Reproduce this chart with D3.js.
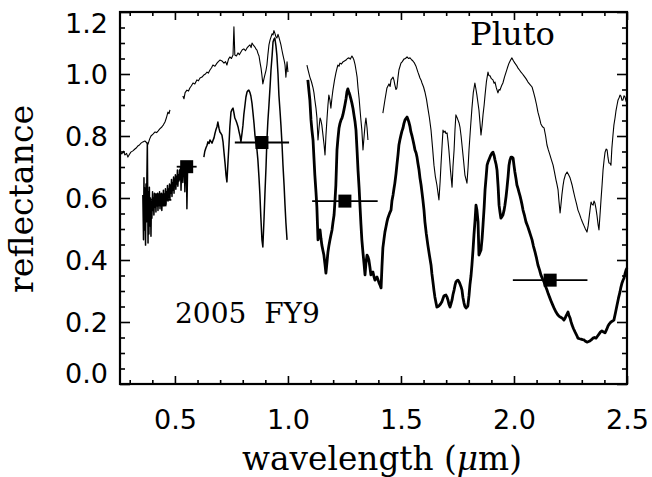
<!DOCTYPE html>
<html><head><meta charset="utf-8">
<script src="https://cdn.jsdelivr.net/npm/d3@7/dist/d3.min.js"></script>
<style>body{margin:0;background:#fff}svg{display:block}</style>
</head><body>
<svg id="c" width="652" height="477"></svg>
<script>
// ---- data (wavelength in micron, reflectance) ----
const plutoVis1 = [[0.257,0.748],[0.265,0.742],[0.272,0.751],[0.279,0.739],[0.286,0.744],[0.292,0.732],[0.299,0.741],[0.305,0.748],[0.314,0.752],[0.323,0.758],[0.330,0.762],[0.336,0.768],[0.343,0.771],[0.350,0.777],[0.358,0.781],[0.367,0.784],[0.374,0.779],[0.381,0.774],[0.388,0.790],[0.394,0.800],[0.403,0.806],[0.412,0.813],[0.419,0.811],[0.425,0.816],[0.433,0.823],[0.442,0.829],[0.449,0.836],[0.456,0.845],[0.462,0.858],[0.469,0.877],[0.474,0.872],[0.478,0.884]];
const plutoVis2 = [[0.535,0.929],[0.540,0.920],[0.545,0.940],[0.553,0.948],[0.560,0.945],[0.566,0.955],[0.573,0.962],[0.580,0.971],[0.588,0.968],[0.597,0.981],[0.604,0.978],[0.611,0.987],[0.620,0.990],[0.628,0.997],[0.635,1.000],[0.642,1.006],[0.648,1.003],[0.655,1.013],[0.662,1.020],[0.668,1.029],[0.677,1.025],[0.686,1.035],[0.692,1.040],[0.699,1.045],[0.708,1.042],[0.717,1.035],[0.724,1.040],[0.730,1.029],[0.737,1.048],[0.743,1.055],[0.750,1.050],[0.757,1.061],[0.761,1.152],[0.765,1.061],[0.772,1.058],[0.779,1.068],[0.785,1.062],[0.792,1.071],[0.798,1.078],[0.805,1.081],[0.812,1.075],[0.819,1.084],[0.826,1.090],[0.832,1.094],[0.837,1.085],[0.841,1.100],[0.848,1.092],[0.854,1.087],[0.859,1.080],[0.863,1.077],[0.868,1.065],[0.872,1.058],[0.877,1.035],[0.881,1.019],[0.885,0.995],[0.889,0.968],[0.894,0.985],[0.898,0.997],[0.903,1.012],[0.907,1.029],[0.911,1.060],[0.916,1.094],[0.921,1.110],[0.925,1.119],[0.930,1.130],[0.934,1.126],[0.938,1.140],[0.942,1.132],[0.947,1.120],[0.951,1.116],[0.956,1.128],[0.960,1.119],[0.965,1.105],[0.969,1.094],[0.974,1.075],[0.978,1.061],[0.983,1.045],[0.987,1.029],[0.991,0.990],[0.996,1.039],[1.000,1.006]];
const plutoNir1 = [[1.084,1.029],[1.090,1.010],[1.097,0.990],[1.104,0.975],[1.111,0.955],[1.115,0.940],[1.119,0.916],[1.124,0.890],[1.128,0.861],[1.133,0.787],[1.138,0.830],[1.142,0.858],[1.146,0.850],[1.150,0.835],[1.155,0.803],[1.160,0.770],[1.164,0.739],[1.168,0.800],[1.173,0.858],[1.177,0.900],[1.181,0.932],[1.186,0.915],[1.190,0.890],[1.195,0.925],[1.199,0.948],[1.206,0.980],[1.212,1.003],[1.217,1.018],[1.221,1.029],[1.226,1.025],[1.230,1.035],[1.237,1.032],[1.243,1.039],[1.250,1.042],[1.257,1.045],[1.263,1.050],[1.270,1.052],[1.276,1.048],[1.283,1.058],[1.288,1.052],[1.292,1.045],[1.297,1.030],[1.301,1.013],[1.306,0.990],[1.310,0.955],[1.315,0.920],[1.319,0.884],[1.323,0.850],[1.327,0.819],[1.332,0.755],[1.337,0.800],[1.341,0.835],[1.345,0.858],[1.350,0.826],[1.354,0.787]];
const plutoNir2 = [[1.420,0.874],[1.429,0.916],[1.438,0.955],[1.447,0.968],[1.452,0.960],[1.456,0.981],[1.465,0.990],[1.469,0.980],[1.473,0.965],[1.478,0.950],[1.482,0.955],[1.487,0.990],[1.491,1.013],[1.500,1.035],[1.506,1.040],[1.513,1.048],[1.520,1.050],[1.527,1.055],[1.533,1.050],[1.540,1.052],[1.547,1.046],[1.553,1.042],[1.560,1.035],[1.566,1.026],[1.571,1.015],[1.575,1.006],[1.580,0.996],[1.584,0.987],[1.589,0.980],[1.593,0.971],[1.600,0.958],[1.606,0.942],[1.613,0.918],[1.619,0.890],[1.626,0.858],[1.633,0.819],[1.640,0.760],[1.646,0.706],[1.652,0.670],[1.659,0.642],[1.668,0.594],[1.673,0.650],[1.677,0.706],[1.682,0.770],[1.686,0.819],[1.690,0.812],[1.695,0.816],[1.699,0.808],[1.704,0.810],[1.708,0.785],[1.712,0.755],[1.719,0.690],[1.726,0.635],[1.730,0.700],[1.735,0.755],[1.739,0.820],[1.743,0.868],[1.748,0.860],[1.752,0.852],[1.757,0.842],[1.761,0.829],[1.766,0.800],[1.770,0.771],[1.777,0.720],[1.783,0.674],[1.792,0.648],[1.797,0.700],[1.801,0.755],[1.808,0.830],[1.814,0.890],[1.820,0.940],[1.827,0.971],[1.832,0.950],[1.836,0.932],[1.841,0.905],[1.845,0.884],[1.850,0.840],[1.854,0.803],[1.859,0.835],[1.863,0.868],[1.868,0.900],[1.872,0.932],[1.878,0.975],[1.885,1.006],[1.889,0.995],[1.894,0.994],[1.900,0.985],[1.907,0.981],[1.912,0.970],[1.916,0.974],[1.922,0.955],[1.929,0.939],[1.934,0.950],[1.938,0.948],[1.945,0.962],[1.951,0.971],[1.958,0.990],[1.965,1.006],[1.971,1.020],[1.978,1.035],[1.985,1.045],[1.991,1.052],[1.998,1.042],[2.004,1.035],[2.011,1.028],[2.018,1.019],[2.025,1.012],[2.031,1.006],[2.038,1.000],[2.044,0.994],[2.053,0.985],[2.062,0.974],[2.071,0.966],[2.080,0.958],[2.087,0.940],[2.093,0.923],[2.100,0.900],[2.106,0.877],[2.113,0.858],[2.119,0.839],[2.126,0.830],[2.133,0.826],[2.140,0.800],[2.146,0.771],[2.152,0.755],[2.159,0.739],[2.166,0.722],[2.173,0.706],[2.179,0.684],[2.186,0.658],[2.190,0.645],[2.195,0.626],[2.199,0.590],[2.204,0.552],[2.208,0.580],[2.212,0.610],[2.217,0.640],[2.221,0.658],[2.228,0.676],[2.235,0.684],[2.241,0.676],[2.248,0.665],[2.252,0.655],[2.257,0.642],[2.263,0.622],[2.270,0.600],[2.277,0.580],[2.283,0.561],[2.290,0.548],[2.296,0.535],[2.303,0.522],[2.310,0.510],[2.316,0.500],[2.323,0.490],[2.328,0.510],[2.332,0.535],[2.337,0.565],[2.341,0.587],[2.345,0.580],[2.350,0.577],[2.354,0.590],[2.358,0.584],[2.363,0.565],[2.367,0.545],[2.372,0.515],[2.376,0.497],[2.381,0.550],[2.385,0.594],[2.390,0.645],[2.394,0.690],[2.399,0.725],[2.403,0.748],[2.408,0.758],[2.412,0.755],[2.416,0.730],[2.420,0.713],[2.425,0.712],[2.429,0.706],[2.433,0.760],[2.438,0.803],[2.442,0.835],[2.447,0.858],[2.451,0.880],[2.456,0.900],[2.460,0.915],[2.465,0.923],[2.469,0.932],[2.473,0.929],[2.478,0.915],[2.482,0.916],[2.487,0.930],[2.491,0.926],[2.496,0.912],[2.500,0.906]];

const fy9Vis1 = [[0.358,0.610],[0.361,0.465],[0.363,0.665],[0.365,0.497],[0.367,0.632],[0.370,0.448],[0.372,0.645],[0.374,0.523],[0.376,0.671],[0.378,0.777],[0.381,0.455],[0.383,0.619],[0.385,0.484],[0.387,0.635],[0.389,0.510],[0.392,0.600],[0.394,0.477],[0.396,0.587],[0.398,0.535],[0.401,0.620],[0.403,0.560],[0.405,0.600],[0.407,0.545],[0.410,0.615],[0.412,0.570],[0.414,0.605],[0.416,0.555],[0.418,0.610],[0.420,0.575],[0.423,0.615],[0.425,0.560],[0.427,0.600],[0.429,0.580],[0.432,0.620],[0.434,0.565],[0.436,0.606],[0.438,0.578],[0.440,0.615],[0.442,0.560],[0.445,0.603],[0.447,0.580],[0.449,0.625],[0.451,0.575],[0.454,0.612],[0.456,0.585],[0.458,0.630],[0.460,0.580],[0.463,0.620],[0.465,0.595],[0.467,0.640],[0.469,0.590],[0.471,0.628],[0.473,0.600],[0.476,0.645],[0.478,0.598],[0.480,0.640],[0.482,0.615],[0.485,0.660],[0.487,0.605],[0.489,0.648],[0.491,0.625],[0.494,0.668],[0.496,0.615],[0.498,0.660],[0.500,0.640],[0.502,0.675],[0.504,0.628],[0.507,0.670],[0.509,0.645],[0.511,0.690],[0.513,0.638],[0.516,0.675],[0.518,0.655],[0.520,0.690],[0.522,0.660],[0.525,0.700],[0.527,0.625],[0.529,0.685],[0.531,0.665],[0.533,0.705],[0.535,0.650],[0.538,0.695],[0.540,0.672],[0.542,0.712],[0.544,0.620],[0.547,0.690],[0.549,0.670],[0.551,0.705],[0.553,0.565],[0.556,0.690],[0.558,0.700]];
const fy9Vis2 = [[0.628,0.732],[0.632,0.750],[0.637,0.761],[0.642,0.770],[0.646,0.781],[0.651,0.776],[0.655,0.787],[0.660,0.782],[0.664,0.777],[0.668,0.785],[0.673,0.794],[0.677,0.808],[0.681,0.819],[0.686,0.830],[0.690,0.845],[0.695,0.825],[0.699,0.813],[0.704,0.808],[0.708,0.803],[0.713,0.780],[0.717,0.748],[0.722,0.710],[0.726,0.674],[0.730,0.652],[0.735,0.720],[0.739,0.771],[0.743,0.830],[0.748,0.877],[0.752,0.885],[0.757,0.890],[0.761,0.875],[0.765,0.858],[0.770,0.850],[0.774,0.842],[0.779,0.830],[0.783,0.816],[0.788,0.800],[0.792,0.781],[0.797,0.810],[0.801,0.835],[0.805,0.870],[0.810,0.900],[0.814,0.925],[0.819,0.942],[0.823,0.946],[0.827,0.948],[0.832,0.940],[0.836,0.929],[0.841,0.905],[0.845,0.877],[0.850,0.840],[0.854,0.803],[0.858,0.780],[0.863,0.755],[0.867,0.723],[0.872,0.665],[0.876,0.610],[0.880,0.540],[0.885,0.465],[0.889,0.442],[0.894,0.530],[0.898,0.610],[0.903,0.700],[0.907,0.787],[0.911,0.845],[0.916,0.900],[0.921,0.960],[0.925,1.013],[0.930,1.060],[0.934,1.103],[0.938,1.112],[0.942,1.116],[0.947,1.090],[0.951,1.061],[0.956,1.000],[0.960,0.932],[0.965,0.880],[0.969,0.835],[0.974,0.770],[0.978,0.706],[0.983,0.640],[0.987,0.577],[0.991,0.520],[0.996,0.465]];
const fy9Nir = [[1.088,0.981],[1.097,0.916],[1.102,0.852],[1.106,0.820],[1.111,0.787],[1.115,0.730],[1.119,0.674],[1.124,0.620],[1.128,0.571],[1.133,0.465],[1.137,0.480],[1.142,0.497],[1.146,0.470],[1.150,0.448],[1.155,0.430],[1.159,0.416],[1.164,0.385],[1.168,0.358],[1.173,0.395],[1.177,0.426],[1.181,0.445],[1.186,0.465],[1.190,0.480],[1.195,0.497],[1.199,0.520],[1.204,0.545],[1.208,0.590],[1.212,0.642],[1.217,0.755],[1.221,0.790],[1.226,0.826],[1.230,0.840],[1.235,0.852],[1.239,0.858],[1.243,0.868],[1.248,0.885],[1.252,0.900],[1.257,0.920],[1.261,0.942],[1.265,0.952],[1.270,0.940],[1.274,0.932],[1.279,0.918],[1.283,0.906],[1.288,0.888],[1.292,0.868],[1.297,0.845],[1.301,0.819],[1.306,0.750],[1.310,0.690],[1.315,0.630],[1.319,0.571],[1.323,0.515],[1.327,0.465],[1.332,0.423],[1.337,0.385],[1.341,0.352],[1.345,0.390],[1.350,0.416],[1.354,0.410],[1.358,0.400],[1.363,0.375],[1.367,0.352],[1.372,0.358],[1.376,0.361],[1.381,0.345],[1.385,0.335],[1.390,0.342],[1.394,0.345],[1.399,0.335],[1.403,0.326],[1.408,0.318],[1.412,0.310],[1.416,0.380],[1.420,0.439],[1.425,0.468],[1.429,0.490],[1.434,0.508],[1.438,0.523],[1.442,0.535],[1.447,0.545],[1.451,0.553],[1.456,0.561],[1.460,0.590],[1.465,0.610],[1.469,0.630],[1.473,0.648],[1.478,0.678],[1.482,0.706],[1.487,0.740],[1.491,0.771],[1.496,0.790],[1.500,0.803],[1.504,0.815],[1.509,0.826],[1.513,0.840],[1.518,0.852],[1.522,0.856],[1.527,0.861],[1.531,0.853],[1.535,0.845],[1.540,0.830],[1.544,0.813],[1.549,0.800],[1.553,0.787],[1.558,0.770],[1.562,0.755],[1.567,0.745],[1.571,0.732],[1.575,0.712],[1.580,0.690],[1.584,0.665],[1.589,0.642],[1.593,0.618],[1.597,0.594],[1.602,0.560],[1.606,0.523],[1.612,0.485],[1.619,0.448],[1.626,0.415],[1.633,0.384],[1.637,0.355],[1.642,0.326],[1.646,0.302],[1.650,0.281],[1.655,0.262],[1.659,0.248],[1.664,0.250],[1.668,0.252],[1.675,0.258],[1.681,0.265],[1.686,0.276],[1.690,0.284],[1.695,0.286],[1.699,0.287],[1.704,0.280],[1.708,0.271],[1.712,0.258],[1.717,0.248],[1.721,0.258],[1.726,0.271],[1.730,0.288],[1.735,0.303],[1.739,0.318],[1.743,0.329],[1.748,0.333],[1.752,0.335],[1.757,0.330],[1.761,0.323],[1.766,0.313],[1.770,0.303],[1.774,0.280],[1.779,0.261],[1.783,0.250],[1.788,0.245],[1.792,0.248],[1.796,0.252],[1.801,0.285],[1.805,0.319],[1.810,0.350],[1.814,0.384],[1.819,0.435],[1.823,0.481],[1.828,0.530],[1.832,0.577],[1.836,0.561],[1.841,0.523],[1.845,0.416],[1.850,0.425],[1.854,0.432],[1.859,0.470],[1.863,0.513],[1.868,0.570],[1.872,0.626],[1.877,0.670],[1.881,0.706],[1.885,0.716],[1.889,0.723],[1.894,0.732],[1.898,0.739],[1.903,0.745],[1.907,0.748],[1.912,0.737],[1.916,0.723],[1.921,0.708],[1.925,0.690],[1.930,0.635],[1.934,0.577],[1.938,0.555],[1.942,0.535],[1.947,0.540],[1.951,0.545],[1.956,0.560],[1.960,0.577],[1.965,0.605],[1.969,0.632],[1.974,0.670],[1.978,0.706],[1.982,0.722],[1.987,0.732],[1.991,0.732],[1.996,0.729],[2.000,0.705],[2.004,0.684],[2.009,0.662],[2.013,0.642],[2.018,0.630],[2.022,0.619],[2.027,0.606],[2.031,0.594],[2.036,0.577],[2.040,0.561],[2.047,0.542],[2.053,0.523],[2.060,0.510],[2.066,0.497],[2.073,0.481],[2.080,0.465],[2.086,0.445],[2.093,0.426],[2.100,0.405],[2.106,0.384],[2.113,0.368],[2.119,0.352],[2.126,0.340],[2.133,0.329],[2.139,0.316],[2.146,0.303],[2.152,0.290],[2.159,0.277],[2.166,0.264],[2.173,0.252],[2.179,0.242],[2.186,0.232],[2.192,0.225],[2.199,0.219],[2.205,0.216],[2.212,0.213],[2.217,0.210],[2.221,0.206],[2.226,0.212],[2.230,0.219],[2.235,0.226],[2.239,0.232],[2.243,0.222],[2.248,0.213],[2.252,0.202],[2.257,0.190],[2.263,0.179],[2.270,0.168],[2.277,0.158],[2.283,0.148],[2.290,0.146],[2.296,0.145],[2.303,0.143],[2.310,0.142],[2.316,0.138],[2.323,0.135],[2.330,0.137],[2.336,0.139],[2.343,0.143],[2.350,0.148],[2.356,0.150],[2.363,0.148],[2.370,0.155],[2.376,0.161],[2.383,0.168],[2.389,0.171],[2.396,0.168],[2.403,0.165],[2.410,0.176],[2.416,0.187],[2.422,0.194],[2.429,0.200],[2.436,0.203],[2.442,0.206],[2.449,0.230],[2.456,0.255],[2.462,0.276],[2.469,0.297],[2.473,0.312],[2.478,0.326],[2.482,0.334],[2.487,0.342],[2.491,0.355],[2.496,0.368],[2.500,0.374]];

const photW   = [0.434, 0.552, 0.885, 1.252, 2.160];
const photR   = [0.594, 0.701, 0.779, 0.590, 0.335];
const photErr = [0.050, 0.044, 0.120, 0.145, 0.165];

const xMajor = [0.5, 1.0, 1.5, 2.0, 2.5];
const yMajor = [0.0, 0.2, 0.4, 0.6, 0.8, 1.0, 1.2];

// ---- layout ----
const svg = d3.select("#c");
const L = 120, R = 627, T = 12, B = 384;
const x = d3.scaleLinear().domain([0.257, 2.5]).range([L, R]);
const y = d3.scaleLinear().domain([0, 1.2]).range([B, T]);

const xMinor = d3.range(0.3, 2.501, 0.1).map(v => +v.toFixed(2)).filter(v => !xMajor.some(m => Math.abs(m - v) < 1e-6));
const yMinor = d3.range(0.05, 1.2, 0.05).map(v => +v.toFixed(2)).filter(v => !yMajor.some(m => Math.abs(m - v) < 1e-6));

function axisG(axis, tx, ty) {
  const g = svg.append("g").attr("transform", `translate(${tx},${ty})`).call(axis);
  g.select(".domain").remove();
  g.selectAll(".tick line").attr("stroke", "#000").attr("stroke-width", 1.6);
  return g;
}
const tickFont = "'DejaVu Sans', sans-serif";
// bottom
const bx = axisG(d3.axisBottom(x).tickValues(xMajor).tickSizeInner(-8).tickSizeOuter(0).tickPadding(26).tickFormat(d3.format(".1f")), 0, B);
bx.selectAll("text").attr("font-family", tickFont).attr("font-size", 27).attr("fill", "#000");
axisG(d3.axisBottom(x).tickValues(xMinor).tickSizeInner(-4).tickSizeOuter(0).tickFormat(""), 0, B);
// top
axisG(d3.axisTop(x).tickValues(xMajor).tickSizeInner(-8).tickSizeOuter(0).tickFormat(""), 0, T);
axisG(d3.axisTop(x).tickValues(xMinor).tickSizeInner(-4).tickSizeOuter(0).tickFormat(""), 0, T);
// left
const ly = axisG(d3.axisLeft(y).tickValues(yMajor).tickSizeInner(-10).tickSizeOuter(0).tickPadding(12).tickFormat(d3.format(".1f")), L, 0);
ly.selectAll("text").attr("font-family", tickFont).attr("font-size", 27).attr("fill", "#000")
  .attr("dy", d => d === 1.2 ? "0.75em" : (d === 0 ? "-0.05em" : "0.36em"));
axisG(d3.axisLeft(y).tickValues(yMinor).tickSizeInner(-5).tickSizeOuter(0).tickFormat(""), L, 0);
// right
axisG(d3.axisRight(y).tickValues(yMajor).tickSizeInner(-10).tickSizeOuter(0).tickFormat(""), R, 0);
axisG(d3.axisRight(y).tickValues(yMinor).tickSizeInner(-5).tickSizeOuter(0).tickFormat(""), R, 0);

// frame
svg.append("rect").attr("x", L).attr("y", T).attr("width", R - L).attr("height", B - T)
  .attr("fill", "none").attr("stroke", "#000").attr("stroke-width", 2.2);

// ---- spectra ----
const line = d3.line().x(d => x(d[0])).y(d => y(d[1]));
function draw(data, w) {
  svg.append("path").datum(data).attr("d", line).attr("fill", "none")
    .attr("stroke", "#000").attr("stroke-width", w).attr("stroke-linejoin", "round");
}
[plutoVis1, plutoVis2, plutoNir1, plutoNir2].forEach(d => draw(d, 1.1));
[fy9Vis1, fy9Vis2].forEach(d => draw(d, 1.5));
draw(fy9Nir, 2.8);

// ---- photometry ----
const phot = photW.map((w, i) => ({ w, r: photR[i], e: photErr[i] }));
svg.append("g").selectAll("line").data(phot).join("line")
  .attr("x1", d => x(d.w - d.e)).attr("x2", d => x(d.w + d.e))
  .attr("y1", d => y(d.r)).attr("y2", d => y(d.r))
  .attr("stroke", "#000").attr("stroke-width", 1.8);
const S = 13;
svg.append("g").selectAll("rect").data(phot).join("rect")
  .attr("x", d => x(d.w) - S / 2).attr("y", d => y(d.r) - S / 2)
  .attr("width", S).attr("height", S).attr("fill", "#000");

// ---- text ----
const serif = "'DejaVu Serif', serif";
function fitText(sel, target) {
  const fs = +sel.attr("font-size");
  const w = sel.node().getComputedTextLength();
  sel.attr("font-size", (fs * target / w).toFixed(2));
}
const t1 = svg.append("text").attr("x", 470).attr("y", 45).attr("font-family", serif).attr("font-size", 28).text("Pluto");
fitText(t1, 85);
const t2 = svg.append("text").attr("x", 175).attr("y", 323).attr("font-family", serif).attr("font-size", 28)
  .style("white-space", "pre").text("2005  FY9");
fitText(t2, 145);
const xt = svg.append("text").attr("x", 242).attr("y", 470).attr("font-family", serif).attr("font-size", 28);
xt.append("tspan").text("wavelength (");
xt.append("tspan").attr("font-style", "italic").text("\u03bc");
xt.append("tspan").text("m)");
fitText(xt, 280);
const yt = svg.append("text").attr("transform", "translate(33,199) rotate(-90)").attr("text-anchor", "middle")
  .attr("font-family", serif).attr("font-size", 26).text("reflectance");
fitText(yt, 188);
</script>
</body></html>
